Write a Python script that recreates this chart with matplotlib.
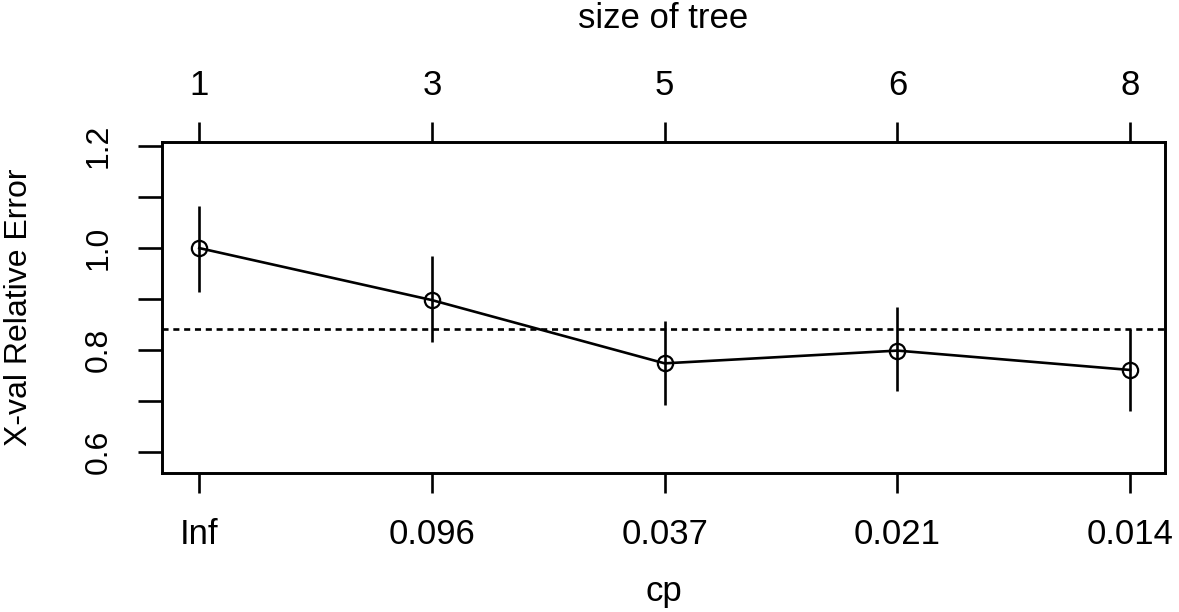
import matplotlib
matplotlib.use("Agg")
import matplotlib.pyplot as plt

# Data (rpart plotcp)
cp_labels = ["Inf", "0.096", "0.037", "0.021", "0.014"]
tree_sizes = ["1", "3", "5", "6", "8"]
xerror = [1.000, 0.898, 0.774, 0.799, 0.761]
xerr_upper = [1.082, 0.984, 0.857, 0.885, 0.841]
xerr_lower = [0.914, 0.816, 0.692, 0.720, 0.680]
threshold = 0.841
y_ticks = [0.6, 0.7, 0.8, 0.9, 1.0, 1.1, 1.2]
y_ticklabels = ["0.6", "", "0.8", "", "1.0", "", "1.2"]

plt.rcParams['font.family'] = ['Liberation Sans', 'DejaVu Sans']
FS = 25
FSY = 23
LW = 1.9

W, H = 1179, 612
fig = plt.figure(figsize=(W / 100, H / 100), dpi=100)
left, right, top, bottom = 162, 1165, 142, 473
ax = fig.add_axes([left / W, 1 - bottom / H, (right - left) / W, (bottom - top) / H])

x = list(range(1, len(xerror) + 1))
for xi, lo, hi in zip(x, xerr_lower, xerr_upper):
    ax.plot([xi, xi], [lo, hi], color='black', lw=LW, solid_capstyle='butt')
ax.plot(x, xerror, color='black', lw=LW, marker='o', markersize=11,
        markerfacecolor='none', markeredgewidth=1.6)
ax.axhline(threshold, color='black', lw=LW, dashes=(2.3, 1.8))

ax.set_xlim(0.84, 5.15)
ax.set_ylim(0.559, 1.208)

for s in ax.spines.values():
    s.set_linewidth(LW)

ax.set_xticks(x)
ax.set_xticklabels(cp_labels)
ax.set_yticks(y_ticks)
ax.set_yticklabels(y_ticklabels)
ax.tick_params(axis='x', length=14.5, width=LW, labelsize=FS, pad=18)
ax.tick_params(axis='y', length=17, width=LW, labelsize=FSY, pad=18, labelrotation=90)
for lab in ax.get_yticklabels():
    lab.set_va('center')

ax2 = ax.twiny()
ax2.set_xlim(ax.get_xlim())
ax2.set_xticks(x)
ax2.set_xticklabels(tree_sizes)
ax2.tick_params(axis='x', length=14.5, width=LW, labelsize=FS, pad=14)
for s in ax2.spines.values():
    s.set_linewidth(LW)

fig.text((left + right) / 2 / W, 1 - 592 / H, "cp", ha='center', va='center', fontsize=FS)
fig.text((left + right) / 2 / W, 1 - 18 / H, "size of tree", ha='center', va='center', fontsize=FS)
fig.text(19 / W, 1 - ((top + bottom) / 2) / H, "X-val Relative Error", ha='center', va='center',
         rotation=90, fontsize=FSY)

fig.savefig("out.png", dpi=100)
